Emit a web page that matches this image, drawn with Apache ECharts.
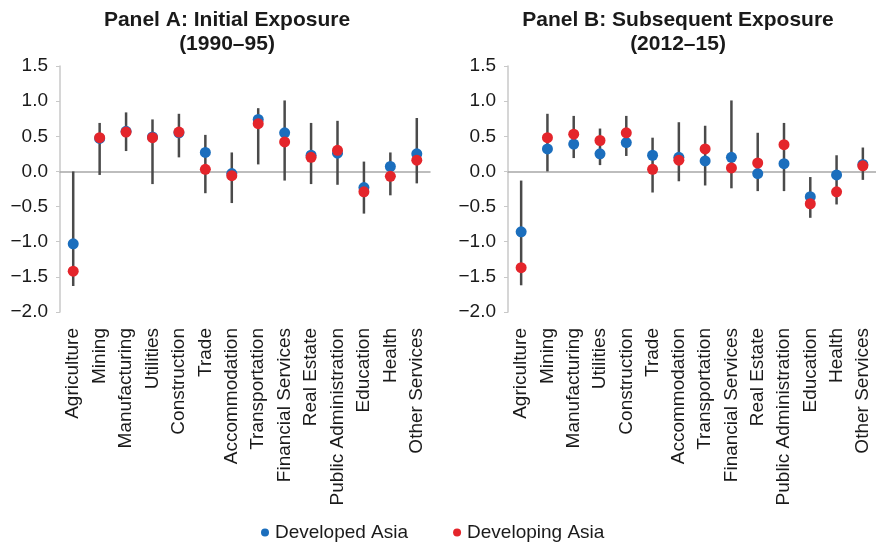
<!DOCTYPE html>
<html>
<head>
<meta charset="utf-8">
<script src="https://cdn.jsdelivr.net/npm/echarts@6/dist/echarts.min.js"></script>
<style>
  html, body { margin: 0; padding: 0; background: #fff; }
  #chart { width: 876px; height: 549px; }
</style>
</head>
<body>
<div id="chart"></div>
<script>
const categories = [
  "Agriculture", "Mining", "Manufacturing", "Utilities", "Construction", "Trade",
  "Accommodation", "Transportation", "Financial Services", "Real Estate",
  "Public Administration", "Education", "Health", "Other Services",
];
const yTicks = [-2.0, -1.5, -1.0, -0.5, 0.0, 0.5, 1.0, 1.5];

// Panel A: Initial Exposure (1990-95)
const developedA = [-1.03, 0.47, 0.57, 0.49, 0.55, 0.27, -0.03, 0.74, 0.55, 0.23, 0.26, -0.23, 0.07, 0.25];
const developingA = [-1.42, 0.48, 0.56, 0.48, 0.56, 0.03, -0.06, 0.68, 0.42, 0.20, 0.30, -0.29, -0.07, 0.16];
const lowA = [-1.63, -0.05, 0.29, -0.18, 0.20, -0.31, -0.45, 0.10, -0.13, -0.18, -0.19, -0.60, -0.34, -0.17];
const highA = [0.00, 0.69, 0.84, 0.74, 0.82, 0.52, 0.27, 0.90, 1.01, 0.69, 0.72, 0.14, 0.27, 0.76];

// Panel B: Subsequent Exposure (2012-15)
const developedB = [-0.86, 0.32, 0.39, 0.25, 0.41, 0.23, 0.20, 0.15, 0.20, -0.03, 0.11, -0.36, -0.05, 0.10];
const developingB = [-1.37, 0.48, 0.53, 0.44, 0.55, 0.03, 0.16, 0.32, 0.05, 0.12, 0.38, -0.46, -0.29, 0.08];
const lowB = [-1.62, 0.00, 0.19, 0.09, 0.22, -0.30, -0.14, -0.20, -0.24, -0.28, -0.28, -0.66, -0.47, -0.12];
const highB = [-0.13, 0.82, 0.79, 0.61, 0.79, 0.48, 0.70, 0.65, 1.01, 0.55, 0.69, -0.08, 0.23, 0.34];

const BLUE = "#1b6ebd";
const RED = "#e4252b";
const FONT = "Liberation Sans, Arial, sans-serif";

const chart = echarts.init(document.getElementById("chart"));

const rangeData = (low, high) => categories.map((c, i) => [i, low[i], high[i]]);

const errorBars = (idx, low, high) => ({
  type: "custom",
  xAxisIndex: idx,
  yAxisIndex: idx,
  silent: true,
  z: 1,
  data: rangeData(low, high),
  renderItem: (params, api) => {
    const p1 = api.coord([api.value(0), api.value(1)]);
    const p2 = api.coord([api.value(0), api.value(2)]);
    return {
      type: "line",
      shape: { x1: p1[0], y1: p1[1], x2: p2[0], y2: p2[1] },
      style: { stroke: "#4a4a4a", lineWidth: 2.5 },
    };
  },
});

const dots = (idx, name, color, values) => ({
  name: name,
  type: "scatter",
  xAxisIndex: idx,
  yAxisIndex: idx,
  symbol: "circle",
  symbolSize: 11,
  z: 3,
  itemStyle: { color: color, opacity: 1 },
  data: values.map((v, i) => [i, v]),
});

const xAxisFor = (idx) => ({
  type: "category",
  gridIndex: idx,
  data: categories,
  axisLine: { onZero: true, lineStyle: { color: "#a8a8a8", width: 1.5 } },
  axisTick: { show: false },
  axisLabel: {
    rotate: 90,
    interval: 0,
    color: "#1a1a1a",
    fontSize: 19,
    fontFamily: FONT,
    margin: 16,
  },
  position: "bottom",
});

const yAxisFor = (idx) => ({
  type: "value",
  gridIndex: idx,
  min: -2.0,
  max: 1.5,
  interval: 0.5,
  axisLine: { show: true, lineStyle: { color: "#c8c8c8", width: 1.5 } },
  axisTick: { show: true, length: 4, lineStyle: { color: "#c8c8c8" } },
  splitLine: { show: false },
  axisLabel: {
    color: "#1a1a1a",
    fontSize: 19,
    fontFamily: FONT,
    margin: 12,
    formatter: (v) => {
      const t = yTicks.find((x) => Math.abs(x - v) < 1e-9);
      return (t < 0 ? "\u2212" + Math.abs(t).toFixed(1) : t.toFixed(1));
    },
  },
});

const option = {
  backgroundColor: "#fff",
  animation: false,
  title: [
    {
      text: "Panel A: Initial Exposure\n(1990\u201395)",
      left: 222,
      top: 3,
      textAlign: "center",
      textStyle: { fontSize: 21, fontWeight: "bold", fontFamily: FONT, color: "#1a1a1a", lineHeight: 24 },
    },
    {
      text: "Panel B: Subsequent Exposure\n(2012\u201315)",
      left: 673,
      top: 3,
      textAlign: "center",
      textStyle: { fontSize: 21, fontWeight: "bold", fontFamily: FONT, color: "#1a1a1a", lineHeight: 24 },
    },
  ],
  legend: {
    bottom: 2,
    left: 256,
    icon: "circle",
    itemWidth: 8,
    itemHeight: 8,
    itemGap: 45,
    textStyle: { fontSize: 19, fontFamily: FONT, color: "#1a1a1a", padding: [0, 0, 0, 1] },
    data: ["Developed Asia", "Developing Asia"],
  },
  grid: [
    { left: 60, top: 66, width: 370, height: 246 },
    { left: 508, top: 66, width: 368, height: 246 },
  ],
  xAxis: [xAxisFor(0), xAxisFor(1)],
  yAxis: [yAxisFor(0), yAxisFor(1)],
  series: [
    errorBars(0, lowA, highA),
    errorBars(1, lowB, highB),
    dots(0, "Developed Asia", BLUE, developedA),
    dots(0, "Developing Asia", RED, developingA),
    dots(1, "Developed Asia", BLUE, developedB),
    dots(1, "Developing Asia", RED, developingB),
  ],
};

chart.setOption(option);
</script>
</body>
</html>
